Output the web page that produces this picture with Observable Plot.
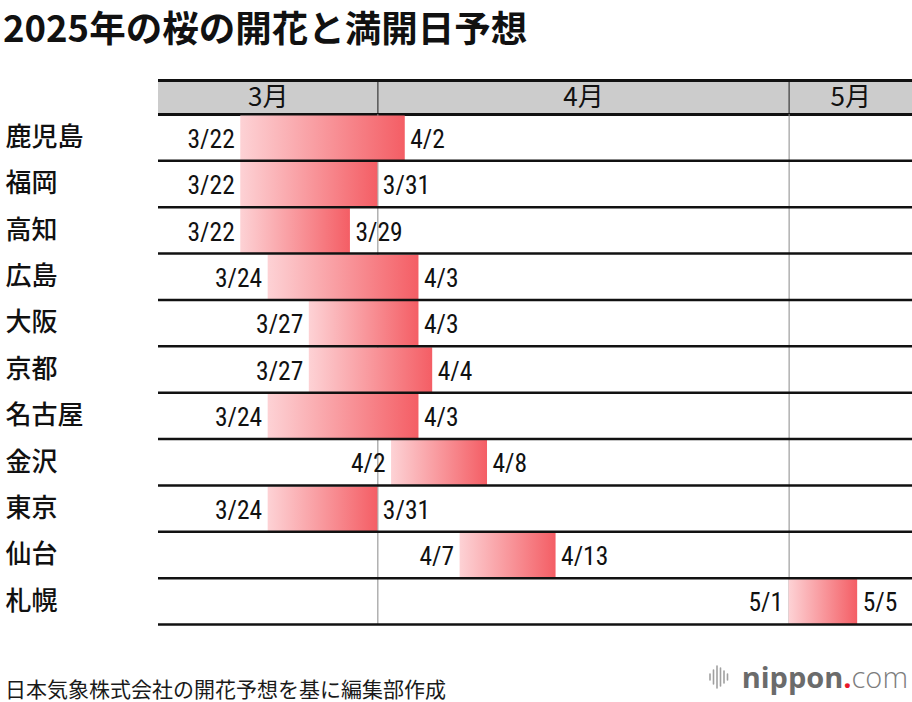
<!DOCTYPE html>
<html>
<head>
<meta charset="utf-8">
<script src="https://cdn.jsdelivr.net/npm/d3@7"></script>
<script src="https://cdn.jsdelivr.net/npm/@observablehq/plot@0.6"></script>
<style>
html, body { margin: 0; padding: 0; background: #fff; }
#wrap { position: relative; width: 912px; height: 702px; overflow: hidden; background: #fff;
  font-family: "Noto Sans CJK JP", "Noto Sans", sans-serif; color: #111; }
#title { position: absolute; left: 3px; top: 0px; line-height: normal; font-size: 36.5px;
  font-weight: 700; white-space: nowrap; color: #111; }
#head { position: absolute; left: 0; top: 78px; }
#body { position: absolute; left: 0; top: 112px; }
#foot { position: absolute; left: 5px; top: 673px; line-height: normal; font-size: 21px; white-space: nowrap; color: #1a1a1a; }
#logo { position: absolute; right: 4px; top: 657px; display: flex; align-items: baseline; white-space: nowrap;
  font-family: "Open Sans", "Noto Sans", sans-serif; font-size: 29px; line-height: normal; }
#logo .n { font-weight: 700; color: #6b6b6b; }
#logo .d { font-weight: 700; color: #e8182b; }
#logo .c { font-weight: 300; color: #7d7d7d; }
#logo svg { margin-right: 13px; align-self: center; }
.cond text { font-family: "Roboto Condensed", "Roboto", sans-serif; font-weight: 400; }
</style>
</head>
<body>
<div id="wrap">
  <div id="title">2025年の桜の開花と満開日予想</div>
  <div id="head"></div>
  <div id="body"></div>
  <div id="foot">日本気象株式会社の開花予想を基に編集部作成</div>
  <div id="logo">
    <svg width="20" height="26" viewBox="0 0 20 26">
      <g stroke="#a0a0a0" stroke-width="1.6" stroke-linecap="round">
        <line x1="1" y1="10" x2="1" y2="16"/>
        <line x1="4.5" y1="6" x2="4.5" y2="20"/>
        <line x1="8" y1="2" x2="8" y2="24"/>
        <line x1="11.5" y1="4" x2="11.5" y2="22"/>
        <line x1="15" y1="7" x2="15" y2="19"/>
        <line x1="18.5" y1="10" x2="18.5" y2="16"/>
      </g>
    </svg>
    <span class="n">nippon</span><span class="d">.</span><span class="c">com</span>
  </div>
</div>
<script>
// ---- data ----
const YEAR = 2025;
const cities = ["鹿児島", "福岡", "高知", "広島", "大阪", "京都", "名古屋", "金沢", "東京", "仙台", "札幌"];
const bloomDates = ["3/22", "3/22", "3/22", "3/24", "3/27", "3/27", "3/24", "4/2", "3/24", "4/7", "5/1"];
const fullBloomDates = ["4/2", "3/31", "3/29", "4/3", "4/3", "4/4", "4/3", "4/8", "3/31", "4/13", "5/5"];
const monthLabels = ["3月", "4月", "5月"];
const monthNumbers = [3, 4, 5];
const axisRange = ["3/16", "5/10"];

// ---- helpers ----
const parse = s => { const [m, d] = s.split("/").map(Number); return new Date(Date.UTC(YEAR, m - 1, d)); };
const nextDay = dt => new Date(+dt + 864e5);
const xDomain = axisRange.map(parse);

const rows = cities.map((city, i) => ({
  city, i,
  start: parse(bloomDates[i]),
  end: nextDay(parse(fullBloomDates[i])),
  startLabel: bloomDates[i],
  endLabel: fullBloomDates[i]
}));

const months = monthNumbers.map((m, k) => {
  const s = new Date(Date.UTC(YEAR, m - 1, 1));
  const e = new Date(Date.UTC(YEAR, m, 1));
  const cs = new Date(Math.max(+s, +xDomain[0]));
  const ce = new Date(Math.min(+e, +xDomain[1]));
  return { label: monthLabels[k], start: s, s: cs, e: ce, mid: new Date((+cs + +ce) / 2) };
});
const boundaries = months.slice(1).map(m => m.start);

const jp = '"Noto Sans CJK JP", "Noto Sans", sans-serif';

// ---- header ----
const head = Plot.plot({
  width: 912, height: 38,
  marginLeft: 158, marginRight: 0, marginTop: 0, marginBottom: 0,
  style: { fontFamily: jp, color: "#111", background: "transparent", overflow: "visible" },
  x: { type: "utc", domain: xDomain, axis: null },
  y: { type: "linear", domain: [0, 1], range: [2, 36], axis: null },
  marks: [
    Plot.rect(months, { x1: "s", x2: "e", y1: 0, y2: 1, fill: "#cccccc" }),
    Plot.ruleX(boundaries, { y1: 0, y2: 1, stroke: "#555", strokeWidth: 1.5 }),
    Plot.ruleY([0, 1], { stroke: "#111", strokeWidth: 3 }),
    Plot.text(months, { x: "mid", frameAnchor: "middle", text: "label", fontSize: 26, fill: "#111" })
  ]
});
document.getElementById("head").appendChild(head);

// ---- body ----
const body = Plot.plot({
  width: 912, height: 516,
  marginLeft: 158, marginRight: 0, marginTop: 2, marginBottom: 4,
  style: { fontFamily: jp, color: "#111", background: "transparent", overflow: "visible" },
  x: { type: "utc", domain: xDomain, axis: null },
  y: { type: "linear", domain: [0, cities.length], range: [2, 512], axis: null },
  marks: [
    Plot.ruleX(boundaries, { stroke: "#8a8a8a", strokeWidth: 1 }),
    Plot.rect(rows, { x1: "start", x2: "end", y1: d => d.i, y2: d => d.i + 1, insetTop: 1.5, fill: "url(#sakura)" }),
    Plot.ruleY(rows, { y: d => d.i + 1, stroke: "#111", strokeWidth: 2.5 }),
    Plot.text(rows, { x: "start", y: d => d.i + 0.5, text: "startLabel", textAnchor: "end", dx: -6, dy: 2,
      fontSize: 25.5, fill: "#111" }),
    Plot.text(rows, { x: "end", y: d => d.i + 0.5, text: "endLabel", textAnchor: "start", dx: 5, dy: 2,
      fontSize: 25.5, fill: "#111" }),
    Plot.text(rows, { frameAnchor: "left", y: d => d.i + 0.5, text: "city", textAnchor: "start", dx: -153,
      fontSize: 26, fontWeight: 500, fill: "#111" })
  ]
});
d3.select(body).insert("defs", ":first-child").html(
  '<linearGradient id="sakura" x1="0" y1="0" x2="1" y2="0">' +
  '<stop offset="0" stop-color="#fdd2d5"/>' +
  '<stop offset="1" stop-color="#f45e65"/>' +
  '</linearGradient>'
);
// condensed face for the date labels (first two text layers)
d3.select(body).selectAll('g[aria-label="text"]').filter((d, i) => i < 2).classed("cond", true);
document.getElementById("body").appendChild(body);
</script>
</body>
</html>
